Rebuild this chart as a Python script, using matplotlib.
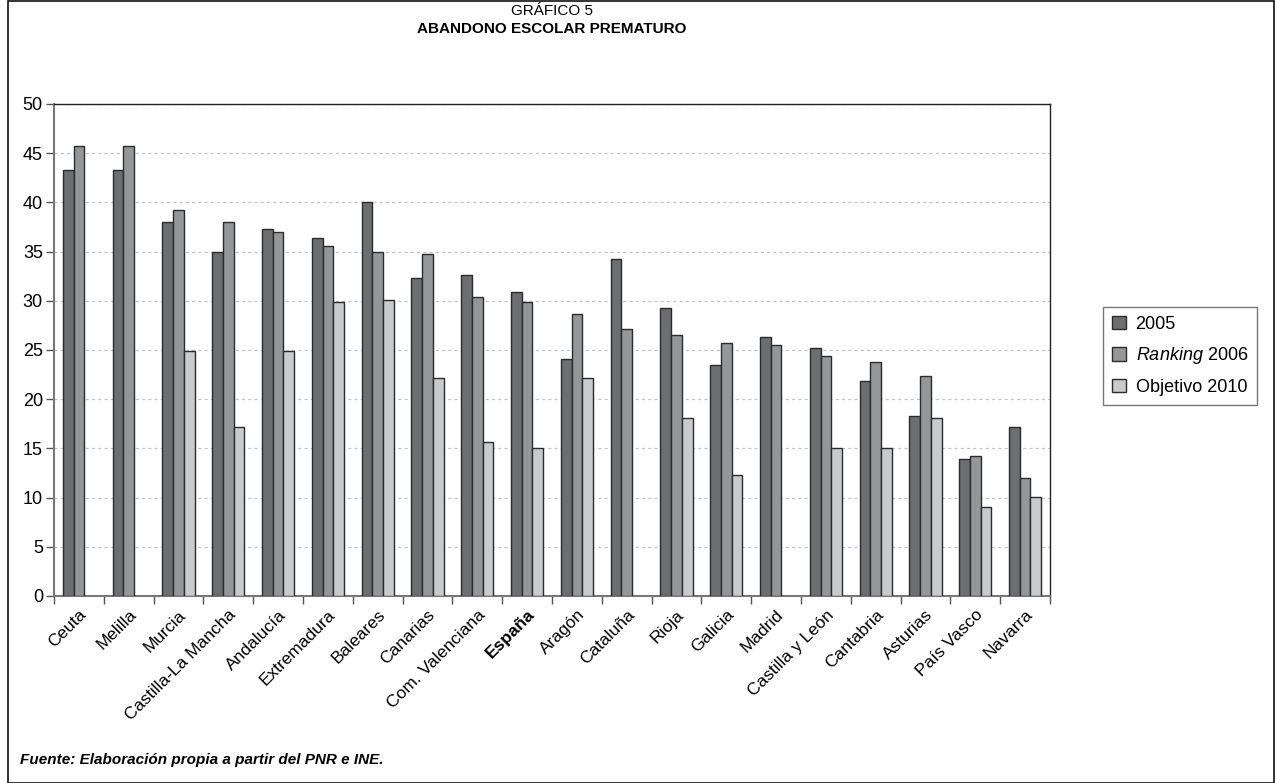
import matplotlib

matplotlib.use("Agg")
import matplotlib.pyplot as plt
import numpy as np
from matplotlib.patches import Rectangle

plt.rcParams["font.family"] = ["Liberation Sans", "DejaVu Sans"]
plt.rcParams["mathtext.fontset"] = "custom"
plt.rcParams["mathtext.it"] = "Liberation Sans:italic"
plt.rcParams["mathtext.rm"] = "Liberation Sans"

# Datos (porcentaje de abandono escolar prematuro)
regions = [
    "Ceuta", "Melilla", "Murcia", "Castilla-La Mancha", "Andalucía",
    "Extremadura", "Baleares", "Canarias", "Com. Valenciana", "España",
    "Aragón", "Cataluña", "Rioja", "Galicia", "Madrid",
    "Castilla y León", "Cantabria", "Asturias", "País Vasco", "Navarra",
]
values_2005 = [43.3, 43.3, 38.0, 35.0, 37.3, 36.4, 40.0, 32.3, 32.6, 30.9,
               24.1, 34.2, 29.3, 23.5, 26.3, 25.2, 21.9, 18.3, 13.9, 17.2]
ranking_2006 = [45.7, 45.7, 39.2, 38.0, 37.0, 35.6, 35.0, 34.8, 30.4, 29.9,
                28.7, 27.1, 26.5, 25.7, 25.5, 24.4, 23.8, 22.4, 14.2, 12.0]
objetivo_2010 = [np.nan, np.nan, 24.9, 17.2, 24.9, 29.9, 30.1, 22.2, 15.6, 15.0,
                 22.2, np.nan, 18.1, 12.3, np.nan, 15.0, 15.0, 18.1, 9.0, 10.1]
series_labels = ["2005", r"$\mathit{Ranking}$ 2006", "Objetivo 2010"]
y_ticks = list(range(0, 51, 5))

colors = ["#6d6e70", "#959698", "#c9cacc"]
edge = "#2b2b2b"

fig = plt.figure(figsize=(12.75, 7.83), dpi=100)
ax = fig.add_axes([54 / 1275, 1 - 596 / 783, 996 / 1275, 492 / 783])

x = np.arange(len(regions))
width = 0.215
for k, (vals, label) in enumerate(zip([values_2005, ranking_2006, objetivo_2010], series_labels)):
    ax.bar(x + (k - 1) * width, vals, width, color=colors[k], edgecolor=edge,
           linewidth=1.0, label=label, zorder=3)

ax.set_xlim(-0.5, len(regions) - 0.5)
ax.set_ylim(0, 50)
ax.set_yticks(y_ticks)
ax.tick_params(axis="y", labelsize=13, length=6, width=1, color="#555555", pad=2)
ax.yaxis.grid(True, linestyle=(0, (2.5, 2.5)), color="#c4c4c4", linewidth=0.9, zorder=0)

ax.set_xticks(x)
ax.set_xticklabels(regions, rotation=45, ha="right", va="top",
                   rotation_mode="anchor", fontsize=12.5)
ax.set_xticks(np.arange(-0.5, len(regions)), minor=True)
ax.tick_params(axis="x", which="major", length=0, pad=8)
ax.tick_params(axis="x", which="minor", length=6, width=1, color="#555555")
for lbl in ax.get_xticklabels():
    if lbl.get_text() == "España":
        lbl.set_fontweight("bold")

for side in ["left", "bottom"]:
    ax.spines[side].set_color("#777777")
    ax.spines[side].set_linewidth(1.5)
for side in ["top", "right"]:
    ax.spines[side].set_color("#222222")
    ax.spines[side].set_linewidth(1.0)

cx = (54 + 1050) / 2 / 1275
fig.text(cx, 1 - 11 / 783, "GRÁFICO 5", ha="center", va="center", fontsize=11)
fig.text(cx, 1 - 29 / 783, "ABANDONO ESCOLAR PREMATURO", ha="center", va="center",
         fontsize=11, fontweight="bold")

leg = fig.legend(loc="upper left", bbox_to_anchor=(1103 / 1275, 1 - 307 / 783),
                 fontsize=13, frameon=True, fancybox=False, handlelength=0.75,
                 handleheight=0.75, handletextpad=0.55, labelspacing=0.68,
                 borderpad=0.5, borderaxespad=0)
leg.get_frame().set_edgecolor("#555555")
leg.get_frame().set_linewidth(1.0)

fig.text(20 / 1275, 1 - 760 / 783, "Fuente: Elaboración propia a partir del PNR e INE.",
         ha="left", va="center", fontsize=11, fontweight="bold", style="italic")

fig.patches.append(Rectangle((8 / 1275, 0.5 / 783), 1 - 9 / 1275, 1 - 1.5 / 783,
                             transform=fig.transFigure, fill=False,
                             edgecolor="#111111", linewidth=1.2))

fig.savefig("out.png", dpi=100)
